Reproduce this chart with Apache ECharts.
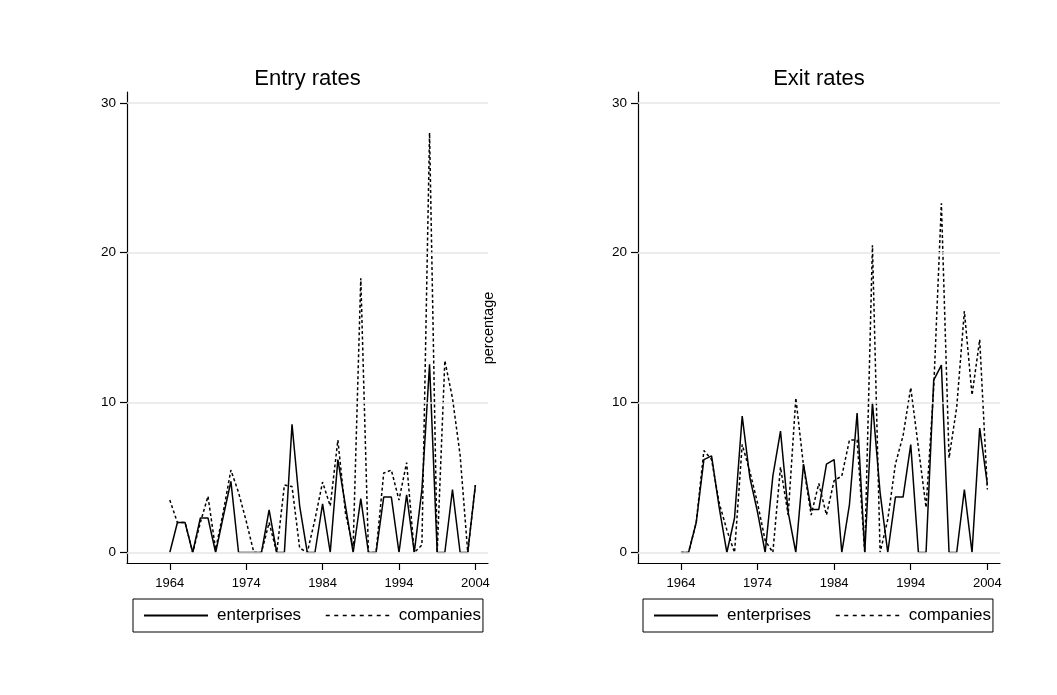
<!DOCTYPE html>
<html>
<head>
<meta charset="utf-8">
<script src="https://cdn.jsdelivr.net/npm/echarts@6/dist/echarts.min.js"></script>
<style>
  html, body { margin: 0; padding: 0; background: #ffffff; }
  #chart { width: 1057px; height: 695px; }
</style>
</head>
<body>
<div id="chart"></div>
<script>
// Years of observation
const years = [1964, 1965, 1966, 1967, 1968, 1969, 1970, 1971, 1972, 1973,
               1974, 1975, 1976, 1977, 1978, 1979, 1980, 1981, 1982, 1983,
               1984, 1985, 1986, 1987, 1988, 1989, 1990, 1991, 1992, 1993,
               1994, 1995, 1996, 1997, 1998, 1999, 2000, 2001, 2002, 2003, 2004];

// Entry rates (percentage)
const entryEnterprises = [0, 2.0, 2.0, 0, 2.3, 2.3, 0, 2.4, 4.75, 0,
                          0, 0, 0, 2.85, 0, 0, 8.55, 3.1, 0, 0,
                          3.25, 0, 6.2, 3.1, 0, 3.6, 0, 0, 3.7, 3.7,
                          0, 3.85, 0, 4.2, 12.55, 0, 0, 4.2, 0, 0, 4.5];
const entryCompanies = [3.5, 2.0, 2.0, 0, 2.0, 3.75, 0.2, 2.7, 5.5, 4.0,
                        2.1, 0, 0, 2.0, 0, 4.5, 4.4, 0.3, 0, 2.2,
                        4.7, 3.1, 7.5, 2.6, 0.4, 18.3, 0, 0, 5.3, 5.5,
                        3.5, 6.0, 0, 0.5, 28.0, 0, 12.8, 10.3, 6.5, 0, 4.5];

// Exit rates (percentage)
const exitEnterprises = [0, 0, 2.0, 6.2, 6.45, 3.0, 0, 2.3, 9.1, 5.0,
                         2.7, 0, 5.1, 8.1, 2.7, 0, 5.9, 2.87, 2.87, 5.9,
                         6.2, 0, 3.2, 9.3, 0, 10.0, 4.0, 0, 3.7, 3.7,
                         7.2, 0, 0, 11.5, 12.5, 0, 0, 4.2, 0, 8.3, 4.55];
const exitCompanies = [0, 0, 2.0, 6.8, 6.2, 3.3, 1.5, 0, 7.2, 5.4,
                       3.3, 0.8, 0, 5.7, 2.5, 10.3, 5.8, 2.5, 4.6, 2.5,
                       4.8, 5.1, 7.5, 7.5, 0, 20.5, 0, 2.2, 5.9, 7.8,
                       11.0, 7.0, 3.0, 11.0, 23.3, 6.3, 9.7, 16.1, 10.5, 14.2, 4.2];

// Axis tick labels
const xTicks = [1964, 1974, 1984, 1994, 2004];
const yTicks = [0, 10, 20, 30];

const seriesNames = ['enterprises', 'companies'];
const panelTitles = ['Entry rates', 'Exit rates'];

const FONT = 'Liberation Sans, Arial, Helvetica, sans-serif';

function pairs(values) {
  return years.map((y, i) => [y, values[i]]);
}

const grids = [
  { left: 127, top: 92, width: 361, height: 471 },
  { left: 638, top: 92, width: 362, height: 471 }
];

function xAxisFor(idx) {
  return {
    type: 'value',
    gridIndex: idx,
    min: 1958.4,
    max: 2005.65,
    axisLine: { show: true, onZero: false, lineStyle: { color: '#000', width: 1.2 } },
    axisTick: { show: true, customValues: xTicks, length: 7, lineStyle: { color: '#000', width: 1.2 } },
    axisLabel: {
      show: true, customValues: xTicks, margin: 14, fontSize: 13, color: '#000', fontFamily: FONT,
      formatter: v => String(v)
    },
    splitLine: { show: false }
  };
}

function yAxisFor(idx) {
  return {
    type: 'value',
    gridIndex: idx,
    min: -0.7,
    max: 30.72,
    axisLine: { show: true, onZero: false, lineStyle: { color: '#000', width: 1.2 } },
    axisTick: { show: true, customValues: yTicks, length: 7, lineStyle: { color: '#000', width: 1.2 } },
    axisLabel: {
      show: true, customValues: yTicks, margin: 11, fontSize: 13.5, color: '#000', fontFamily: FONT,
      formatter: v => String(v)
    },
    splitLine: { show: false }
  };
}

// Light horizontal reference lines at the labelled y values
function gridLines(idx) {
  return {
    type: 'line',
    name: 'grid' + idx,
    xAxisIndex: idx,
    yAxisIndex: idx,
    data: [],
    silent: true,
    z: 1,
    markLine: {
      silent: true,
      symbol: ['none', 'none'],
      label: { show: false },
      animation: false,
      lineStyle: { color: '#e6e6e6', width: 1.6, type: 'solid' },
      data: yTicks.map(v => ({ yAxis: v }))
    }
  };
}

function lineSeries(name, values, idx, dashed) {
  return {
    type: 'line',
    name: name,
    xAxisIndex: idx,
    yAxisIndex: idx,
    data: pairs(values),
    symbol: 'none',
    showSymbol: false,
    z: 3,
    lineStyle: {
      color: '#000',
      width: 1.5,
      type: dashed ? [3, 2.5] : 'solid'
    },
    itemStyle: { color: '#000' }
  };
}

function legendFor(left) {
  return {
    left: left,
    top: 599,
    orient: 'horizontal',
    data: [
      { name: seriesNames[0] },
      { name: seriesNames[1], lineStyle: { type: [4, 4.5], width: 1.3 } }
    ],
    selectedMode: false,
    itemWidth: 64,
    itemHeight: 14,
    itemGap: 24,
    padding: [8, 2, 8, 10],
    borderColor: '#000',
    borderWidth: 1,
    borderRadius: 0,
    itemStyle: { opacity: 0 },
    textStyle: { fontSize: 17, color: '#000', fontFamily: FONT, padding: [0, 0, 0, 4] }
  };
}

const chart = echarts.init(document.getElementById('chart'), null, { renderer: 'canvas' });

chart.setOption({
  animation: false,
  backgroundColor: '#ffffff',
  grid: grids,
  xAxis: [xAxisFor(0), xAxisFor(1)],
  yAxis: [yAxisFor(0), yAxisFor(1)],
  legend: [legendFor(133), legendFor(643)],
  graphic: [
    {
      type: 'text', x: 127 + 361 / 2, y: 79,
      style: { text: panelTitles[0], align: 'center', verticalAlign: 'middle', font: '22px ' + FONT, fill: '#000' }
    },
    {
      type: 'text', x: 638 + 362 / 2, y: 79,
      style: { text: panelTitles[1], align: 'center', verticalAlign: 'middle', font: '22px ' + FONT, fill: '#000' }
    },
    {
      type: 'text', x: 489, y: 328, rotation: Math.PI / 2,
      style: { text: 'percentage', align: 'center', verticalAlign: 'middle', font: '14.5px ' + FONT, fill: '#000' }
    }
  ],
  series: [
    gridLines(0),
    gridLines(1),
    lineSeries(seriesNames[0], entryEnterprises, 0, false),
    lineSeries(seriesNames[1], entryCompanies, 0, true),
    lineSeries(seriesNames[0], exitEnterprises, 1, false),
    lineSeries(seriesNames[1], exitCompanies, 1, true)
  ]
});
</script>
</body>
</html>
